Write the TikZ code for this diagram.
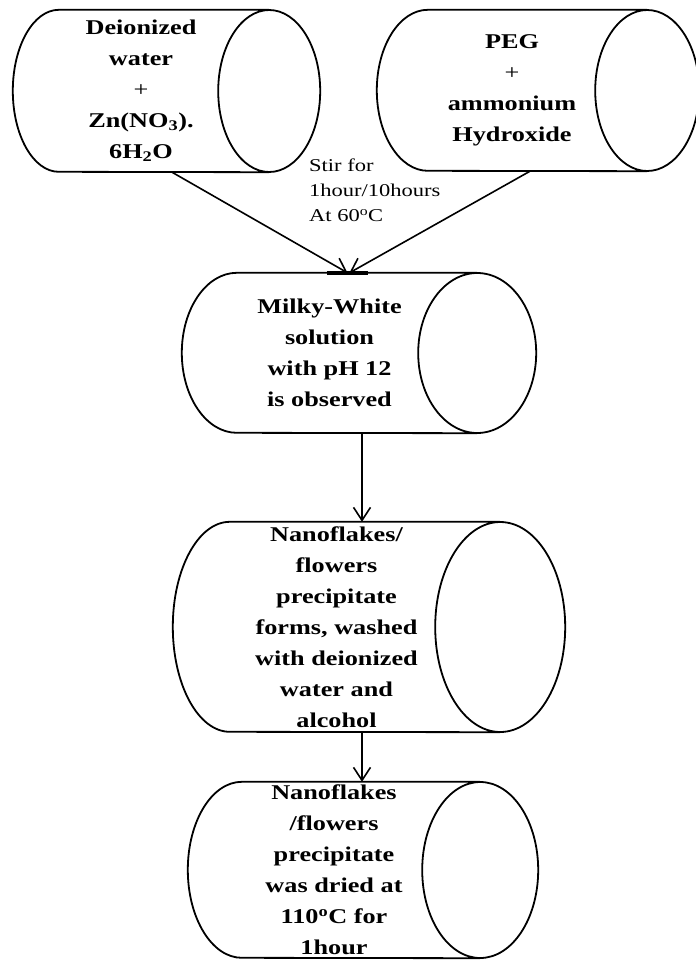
\documentclass[tikz,border=0pt]{standalone}
\usepackage{fontspec}
\setmainfont{Liberation Serif}[FakeStretch=1.25]
\usetikzlibrary{arrows.meta}

\begin{document}
\begin{tikzpicture}[x=1pt, y=-1pt,
		tube/.style={inner sep=0pt, align=center, font=\fontsize{21}{31}\selectfont\bfseries},
		rim/.style={line width=1.8pt},
		flow/.style={-{Straight Barb[length=13pt, width=17pt]}, line width=1.6pt}]
	\useasboundingbox (0,0) rectangle (696,962);

	% the five tubes (text part, the outline comes after)
	\node[tube, minimum width=256pt, minimum height=162pt] (water) at (141,91) {Deionized\\water\\\textmd{+}\\Zn(NO\textsubscript{3}).\\6H\textsubscript{2}O};
	\node[tube, minimum width=270pt, minimum height=161pt] (peg) at (512,90.5) {PEG\\\textmd{+}\\ammonium\\Hydroxide};
	\node[tube, minimum width=295pt, minimum height=160pt] (milky) at (329.5,353) {Milky-White\\solution\\with pH 12\\is observed};
	\node[tube, minimum width=327pt, minimum height=210pt] (flakes) at (336.5,627) {Nanoflakes/\\flowers\\precipitate\\forms, washed\\with deionized\\water and\\alcohol};
	\node[tube, minimum width=292pt, minimum height=176pt] (dried) at (334,870) {Nanoflakes\\/flowers\\precipitate\\was dried at\\110\textsuperscript{o}C for\\1hour};

	\foreach \n/\l/\r/\h in {water/46/51/81, peg/51/52/80.5, milky/55/59/80, flakes/57/65/105, dried/54/58/88}
	{
		\draw[rim] ([xshift=\l]\n.north west) -- (\n.north east)
			([xshift=\l]\n.north west) arc[start angle=90, end angle=270, x radius=\l pt, y radius=\h pt] -- (\n.south east)
			(\n.east) ellipse[x radius=\r pt, y radius=\h pt];
	}

	\node[anchor=north west, align=left, inner sep=0pt, font=\fontsize{18}{25}\selectfont] (stir) at (309,159) {Stir for\\1hour/10hours\\At 60\textsuperscript{o}C};

	\draw[flow] ([xshift=31]water.south) -- ([xshift=18]milky.north); % water -> milky
	\draw[flow] ([xshift=18]peg.south) -- ([xshift=20]milky.north); % peg -> milky
	\draw[line width=3.5pt] ([xshift=-2.5]milky.north) -- ([xshift=38.5]milky.north);
	\draw[flow] ([xshift=32.5]milky.south) -- ([xshift=32.5]milky.south |- flakes.north); % milky -> flakes
	\draw[flow] ([xshift=25.5]flakes.south) -- ([xshift=25.5]flakes.south |- dried.north); % flakes -> dried
\end{tikzpicture}
\end{document}
